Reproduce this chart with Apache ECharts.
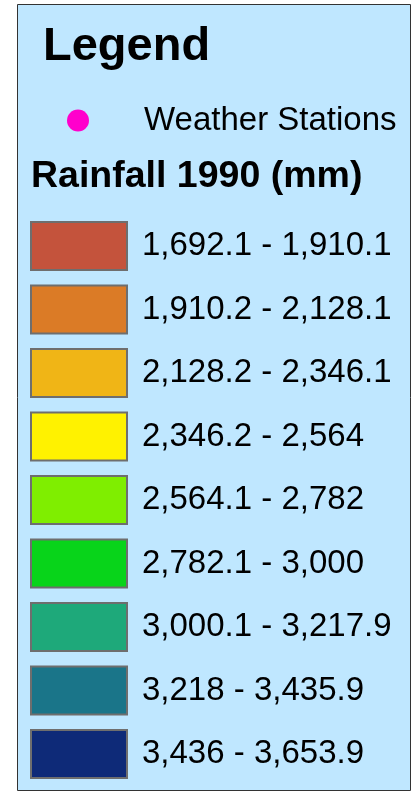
<!DOCTYPE html>
<html>
<head>
<meta charset="utf-8">
<script src="https://cdn.jsdelivr.net/npm/echarts@6/dist/echarts.min.js"></script>
<style>html,body{margin:0;padding:0;background:#fff}#c{width:420px;height:792px}</style>
</head>
<body>
<div id="c"></div>
<script>
const legendTitle = 'Legend';
const pointLayerName = 'Weather Stations';
const pointColor = '#ff00cc';
const rainfallTitle = 'Rainfall 1990 (mm)';
const classLabels = [
  '1,692.1 - 1,910.1',
  '1,910.2 - 2,128.1',
  '2,128.2 - 2,346.1',
  '2,346.2 - 2,564',
  '2,564.1 - 2,782',
  '2,782.1 - 3,000',
  '3,000.1 - 3,217.9',
  '3,218 - 3,435.9',
  '3,436 - 3,653.9'
];
const classColors = ['#c4533c','#db7b26','#f0b516','#fff200','#7fee00','#08d41a','#1ea97a','#1a7589','#0e2a78'];

const font = '"Liberation Sans", Arial, Helvetica, sans-serif';
const chart = echarts.init(document.getElementById('c'), null, {renderer:'canvas'});

const series = [{
  type:'scatter', name: pointLayerName, data: [],
  itemStyle:{color: pointColor, opacity:1}
}].concat(classLabels.map((l,i)=>({
  type:'scatter', name:l, data:[], symbol:'rect',
  itemStyle:{color: classColors[i], borderColor:'#6e6e6e', borderWidth:2, opacity:1}
})));

chart.setOption({
  animation:false,
  backgroundColor:'#ffffff',
  grid:{show:false, left:-10, top:-10, width:1, height:1},
  xAxis:{show:false, type:'value'},
  yAxis:{show:false, type:'value'},
  graphic:[{
    type:'rect', z:-10, silent:true,
    shape:{x:17.5, y:4.5, width:393, height:786},
    style:{fill:'#bfe7ff', stroke:'#333333', lineWidth:1}
  }],
  title:[
    {text: legendTitle, left:43, top:24, padding:0,
     textStyle:{fontFamily:font, fontSize:47, fontWeight:'bold', color:'#000'}},
    {text: rainfallTitle, left:31, top:158, padding:0,
     textStyle:{fontFamily:font, fontSize:37.5, fontWeight:'bold', color:'#000'}}
  ],
  legend:[
    {data:[{name: pointLayerName, icon:'circle'}], orient:'vertical', left:67, top:104,
     padding:0, itemWidth:22, itemHeight:22, selectedMode:false,
     itemStyle:{borderWidth:0, opacity:1},
     textStyle:{fontFamily:font, fontSize:33, lineHeight:22, color:'#000', padding:[0,0,0,50]}},
    {data: classLabels.map(l=>({name:l, icon:'rect'})), orient:'vertical', left:30, top:221,
     height:620, padding:0, itemWidth:96, itemHeight:48, itemGap:13.5, selectedMode:false,
     itemStyle:{borderColor:'#6e6e6e', borderWidth:2, opacity:1},
     textStyle:{fontFamily:font, fontSize:33, lineHeight:40, color:'#000', padding:[0,0,0,10]}}
  ],
  series: series
});
</script>
</body>
</html>
